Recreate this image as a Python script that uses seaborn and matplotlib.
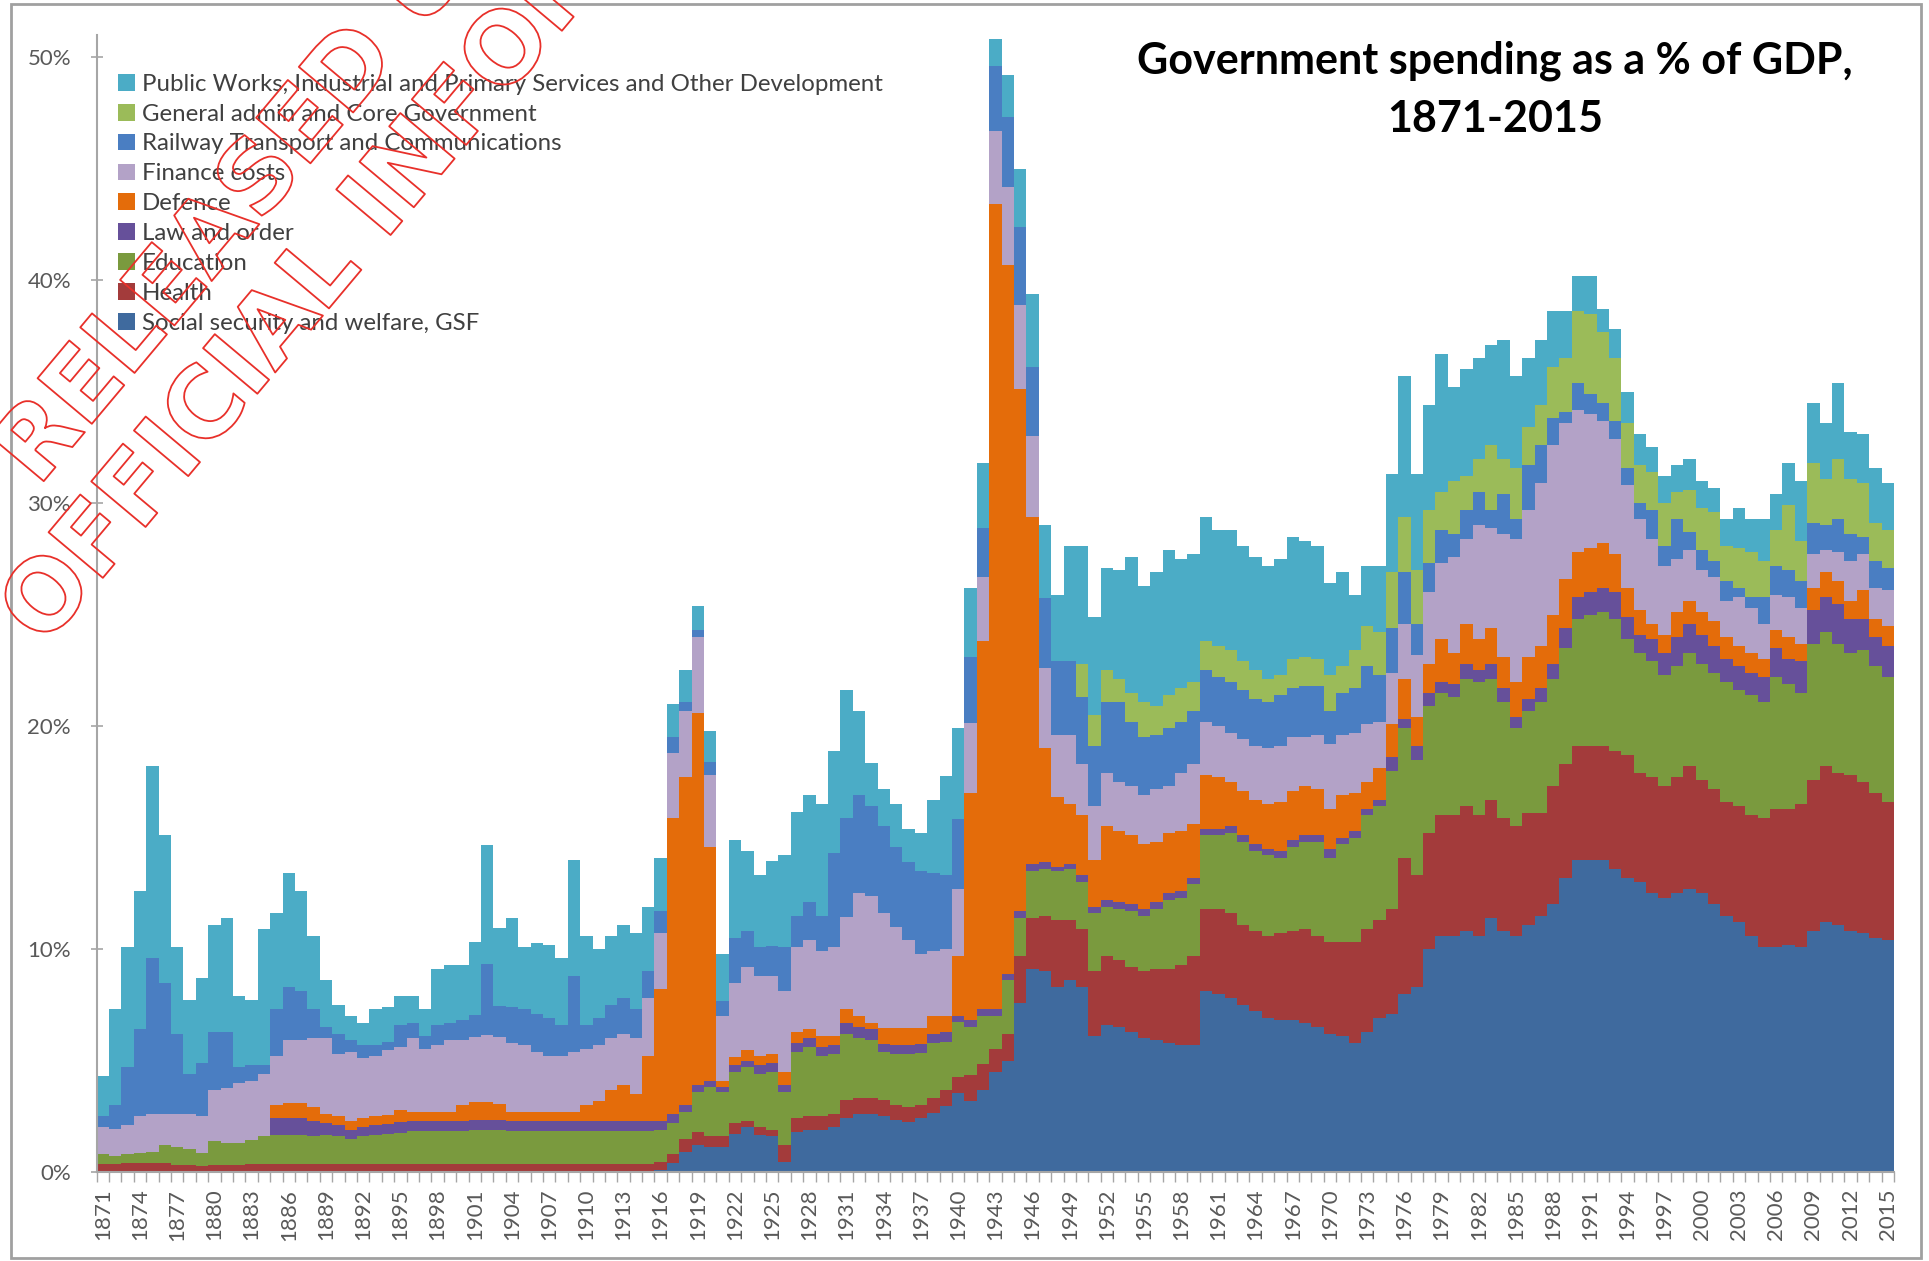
import matplotlib
matplotlib.use("Agg")
import numpy as np
import pandas as pd
import matplotlib.pyplot as plt
import matplotlib.patheffects as pe
from matplotlib import font_manager
from matplotlib.patches import Patch, Rectangle
import seaborn as sns

years = list(range(1871, 2016))

# values in % of GDP, one per year 1871-2015 (rows of 25 years)
social_security = (
    [0] * 25
    + [0] * 20 + [0.1, 0.4, 0.9, 1.2, 1.1]
    + [1.1, 1.7, 2.0, 1.65, 1.6, 0.45, 1.8, 1.9, 1.9, 2.0, 2.4, 2.6, 2.6, 2.5, 2.35, 2.25, 2.4, 2.65, 2.95, 3.55, 3.2, 3.7, 4.5, 5.0, 7.6]
    + [9.1, 9.0, 8.3, 8.6, 8.3, 6.1, 6.6, 6.5, 6.3, 6.0, 5.9, 5.8, 5.7, 5.7, 8.1, 8.0, 7.8, 7.5, 7.2, 6.9, 6.8, 6.8, 6.7, 6.5, 6.2]
    + [6.1, 5.8, 6.3, 6.9, 7.1, 8.0, 8.3, 10.0, 10.6, 10.6, 10.8, 10.6, 11.4, 10.8, 10.6, 11.1, 11.5, 12.0, 13.2, 14.0, 14.0, 14.0, 13.6, 13.2, 13.0]
    + [12.5, 12.3, 12.5, 12.7, 12.5, 12.0, 11.5, 11.2, 10.6, 10.1, 10.1, 10.2, 10.1, 10.8, 11.2, 11.1, 10.8, 10.7, 10.5, 10.4]
)
health = (
    [0.35, 0.35, 0.4, 0.4, 0.4, 0.4, 0.3, 0.3, 0.25, 0.3, 0.3, 0.3, 0.35, 0.35, 0.35, 0.35, 0.35, 0.35, 0.35, 0.35, 0.35, 0.35, 0.35, 0.35, 0.35]
    + [0.35] * 20 + [0.35, 0.4, 0.6, 0.6, 0.5]
    + [0.5, 0.5, 0.3, 0.35, 0.3, 0.75, 0.6, 0.6, 0.6, 0.6, 0.85, 0.7, 0.7, 0.75, 0.65, 0.65, 0.6, 0.65, 0.75, 0.7, 1.15, 1.15, 1.0, 1.2, 2.1]
    + [2.3, 2.5, 3.0, 2.7, 2.6, 2.9, 3.1, 3.0, 2.9, 3.0, 3.2, 3.3, 3.6, 4.0, 3.7, 3.8, 3.8, 3.6, 3.6, 3.7, 3.9, 4.0, 4.2, 4.1, 4.1]
    + [4.2, 4.5, 4.6, 4.4, 4.7, 6.1, 5.0, 5.2, 5.4, 5.4, 5.6, 5.4, 5.3, 5.1, 4.9, 5.0, 4.6, 5.3, 5.1, 5.1, 5.1, 5.1, 5.3, 5.5, 4.9]
    + [5.2, 5.0, 5.2, 5.5, 5.1, 5.2, 5.1, 5.2, 5.4, 5.8, 6.2, 6.1, 6.4, 6.8, 7.0, 6.8, 7.0, 6.8, 6.5, 6.2]
)
education = (
    [0.45, 0.35, 0.4, 0.45, 0.5, 0.8, 0.8, 0.75, 0.6, 1.1, 1.0, 1.0, 1.1, 1.25, 1.3, 1.3, 1.3, 1.25, 1.3, 1.25, 1.15, 1.25, 1.3, 1.35, 1.4]
    + [1.5, 1.5, 1.5, 1.5, 1.5, 1.55, 1.55, 1.55, 1.5, 1.5, 1.5, 1.5, 1.5, 1.5, 1.5, 1.5, 1.5, 1.5, 1.5, 1.5, 1.45, 1.4, 1.2, 1.8, 2.2]
    + [2.0, 2.3, 2.4, 2.4, 2.6, 2.4, 3.0, 3.1, 2.7, 2.7, 2.95, 2.7, 2.6, 2.15, 2.3, 2.4, 2.35, 2.5, 2.15, 2.5, 2.15, 2.15, 1.5, 2.4, 1.7]
    + [2.1, 2.1, 2.2, 2.3, 2.1, 2.6, 2.2, 2.3, 2.5, 2.5, 2.7, 3.1, 3.0, 3.2, 3.3, 3.3, 3.6, 3.7, 3.6, 3.6, 3.4, 3.8, 3.9, 4.2, 3.8]
    + [4.4, 4.7, 5.1, 5.1, 6.2, 5.8, 5.2, 5.7, 5.5, 5.3, 5.7, 6.0, 5.4, 5.2, 4.4, 4.6, 5.0, 4.8, 5.2, 5.7, 5.9, 6.0, 5.9, 5.2, 5.4]
    + [5.2, 5.0, 5.0, 5.1, 5.2, 5.2, 5.4, 5.2, 5.4, 5.2, 5.9, 5.6, 5.0, 6.1, 6.0, 5.8, 5.5, 5.9, 5.7, 5.6]
)
law_order = (
    [0] * 14 + [0.75, 0.75, 0.75, 0.7, 0.55, 0.5, 0.4, 0.4, 0.45, 0.45, 0.5]
    + [0.45] * 20 + [0.4, 0.4, 0.3, 0.3, 0.3]
    + [0.2, 0.3, 0.3, 0.4, 0.4, 0.3, 0.4, 0.4, 0.4, 0.4, 0.5, 0.5, 0.5, 0.35, 0.4, 0.4, 0.4, 0.4, 0.45, 0.25, 0.3, 0.3, 0.3, 0.3, 0.3]
    + [0.3, 0.3, 0.2, 0.2, 0.3] + [0.3] * 19 + [0.4]
    + [0.3, 0.3, 0.3, 0.3, 0.6, 0.4, 0.6, 0.6, 0.5, 0.6, 0.7, 0.5, 0.7, 0.6, 0.5, 0.5, 0.6, 0.7, 0.9, 1.0, 1.0, 1.1, 1.2, 1.0, 0.8]
    + [1.0, 1.0, 1.3, 1.3, 1.3, 1.2, 1.0, 1.1, 1.0, 1.1, 1.3, 1.1, 1.4, 1.5, 1.6, 1.8, 1.5, 1.4, 1.3, 1.4]
)
defence = (
    [0] * 14 + [0.6, 0.7, 0.7, 0.6, 0.4, 0.4, 0.4, 0.4, 0.4, 0.4, 0.55]
    + [0.4, 0.4, 0.4, 0.4, 0.7, 0.8, 0.8, 0.7, 0.4, 0.4, 0.4, 0.4, 0.4, 0.4, 0.7, 0.9, 1.4, 1.6, 1.2, 2.9, 5.9, 13.3, 14.7, 16.7, 10.5]
    + [0.3, 0.35, 0.45, 0.4, 0.4, 0.6, 0.5, 0.4, 0.5, 0.4, 0.6, 0.5, 0.3, 0.7, 0.75, 0.75, 0.7, 0.8, 0.7, 2.7, 10.2, 16.5, 36.1, 31.8, 23.4]
    + [15.6, 5.1, 3.1, 2.7, 2.7, 2.1, 3.3, 3.2, 3.1, 2.9, 2.7, 2.7, 2.7, 2.4, 2.4, 2.3, 2.0, 2.0, 2.0, 2.0, 2.2, 2.2, 2.2, 2.1, 1.8]
    + [1.9, 1.7, 1.2, 1.4, 1.5, 1.8, 1.3, 1.3, 1.9, 1.4, 1.8, 1.4, 1.6, 1.4, 1.6, 1.9, 1.9, 2.2, 2.2, 2.0, 2.0, 2.0, 1.7, 1.3, 1.1]
    + [0.7, 0.8, 1.1, 1.0, 1.0, 1.1, 1.0, 0.9, 0.9, 0.8, 0.8, 1.0, 0.8, 1.0, 1.1, 1.0, 0.8, 1.3, 0.8, 0.9]
)
finance = (
    [1.2, 1.25, 1.3, 1.65, 1.7, 1.4, 1.5, 1.55, 1.65, 2.3, 2.45, 2.7, 2.65, 2.8, 2.2, 2.8, 2.8, 3.1, 3.4, 2.8, 3.1, 2.7, 2.7, 2.9, 2.8]
    + [3.3, 2.8, 3.0, 3.2, 2.9, 2.9, 3.0, 3.0, 3.1, 3.0, 2.7, 2.5, 2.5, 2.7, 2.5, 2.5, 2.3, 2.3, 2.5, 2.6, 2.5, 2.9, 3.0, 3.4, 3.2]
    + [2.9, 3.35, 3.75, 3.6, 3.5, 3.6, 3.8, 4.0, 3.8, 4.0, 4.15, 5.5, 5.7, 5.15, 4.55, 3.95, 3.35, 2.9, 3.0, 3.0, 3.15, 2.9, 3.3, 3.5, 3.8]
    + [3.6, 3.6, 2.8, 3.1, 2.3, 2.4, 2.4, 2.2, 2.2, 2.2, 2.4, 2.1, 2.6, 2.7, 2.4, 2.3, 2.2, 2.3, 2.4, 2.5, 2.5, 2.4, 2.2, 2.4, 2.9]
    + [2.7, 2.7, 2.6, 2.1, 2.3, 2.5, 2.8, 3.2, 3.4, 4.3, 3.8, 5.1, 4.5, 5.5, 6.4, 6.6, 7.3, 7.6, 7.0, 6.4, 6.0, 5.5, 5.2, 4.6, 4.1]
    + [3.8, 3.1, 2.4, 2.3, 1.9, 2.0, 1.6, 2.2, 2.0, 1.6, 1.6, 1.8, 1.6, 1.5, 1.0, 1.3, 1.8, 1.6, 1.4, 1.6]
)
railway = (
    [0.5, 1.05, 2.6, 3.9, 7.0, 5.9, 3.6, 1.8, 2.4, 2.6, 2.55, 0.7, 0.7, 0.4, 2.1, 2.4, 2.2, 1.3, 0.5, 0.9, 0.5, 0.6, 0.5, 0.4, 1.0]
    + [0.7, 0.6, 0.9, 0.8, 0.9, 1.0, 3.2, 1.4, 1.6, 1.6, 1.7, 1.7, 1.4, 3.4, 1.1, 1.2, 1.5, 1.6, 1.3, 1.2, 1.0, 0.7, 0.4, 0.3, 0.6]
    + [0.65, 2.0, 1.6, 1.3, 1.35, 2.0, 1.4, 1.7, 1.6, 4.2, 4.45, 4.4, 4.0, 3.9, 3.6, 3.5, 3.7, 3.5, 3.3, 3.15, 2.95, 2.2, 2.9, 3.1, 3.5]
    + [3.1, 3.15, 3.3, 3.3, 3.0, 2.7, 3.2, 3.6, 2.9, 2.6, 2.4, 2.6, 2.3, 2.4, 2.3, 2.2, 2.3, 2.2, 2.1, 2.1, 2.3, 2.2, 2.3, 2.2, 1.5]
    + [1.9, 2.0, 2.6, 2.1, 2.0, 2.3, 1.4, 1.3, 1.5, 1.0, 1.3, 1.5, 0.8, 1.8, 0.9, 2.0, 1.7, 1.2, 0.5, 1.2, 0.9, 0.8, 0.8, 0.8, 0.7]
    + [1.3, 0.9, 1.8, 0.8, 0.9, 0.7, 0.9, 0.4, 0.5, 1.2, 1.3, 1.2, 1.2, 1.4, 1.1, 1.5, 1.2, 0.8, 1.2, 1.0]
)
admin = (
    [0] * 75
    + [0, 0, 0, 0, 1.5, 1.4, 1.4, 1.0, 1.3, 1.6, 1.3, 1.5, 1.5, 1.3, 1.3, 1.4, 1.4, 1.3, 1.3, 1.0, 0.9, 1.3, 1.3, 1.2, 1.6]
    + [1.2, 1.7, 1.8, 1.9, 2.5, 2.5, 2.4, 2.4, 1.7, 2.4, 1.5, 1.5, 2.9, 1.6, 2.3, 1.7, 1.8, 2.3, 2.4, 3.2, 3.6, 3.2, 2.8, 2.0, 1.7]
    + [1.7, 1.9, 1.2, 1.9, 1.9, 2.2, 1.6, 1.8, 2.0, 1.6, 1.6, 2.9, 1.8, 2.7, 2.1, 2.7, 2.5, 2.4, 1.7, 1.7]
)
public_works = (
    [1.8, 4.3, 5.4, 6.2, 8.6, 6.6, 3.9, 3.3, 3.8, 4.8, 5.1, 3.2, 2.9, 6.1, 4.3, 5.1, 4.5, 3.3, 2.1, 1.3, 1.1, 1.0, 1.6, 1.55, 1.3]
    + [1.2, 1.2, 2.5, 2.6, 2.5, 3.25, 5.3, 3.5, 4.0, 2.8, 3.15, 3.3, 3.0, 5.2, 4.0, 3.1, 3.1, 3.3, 3.4, 2.9, 2.4, 1.5, 1.4, 1.1, 1.4]
    + [2.15, 4.4, 3.6, 3.2, 3.8, 4.1, 4.65, 4.8, 5.0, 4.6, 5.7, 3.8, 1.95, 1.7, 1.9, 1.5, 1.7, 3.3, 4.45, 4.05, 3.1, 2.9, 1.2, 1.9, 2.6]
    + [3.3, 3.25, 3.0, 5.2, 5.3, 4.4, 4.6, 4.9, 6.1, 5.2, 6.0, 6.5, 5.8, 5.7, 5.6, 5.2, 5.4, 5.2, 5.1, 5.1, 5.2, 5.5, 5.2, 5.1, 4.1]
    + [4.2, 2.5, 2.7, 3.0, 4.4, 6.3, 4.3, 4.7, 6.2, 4.2, 4.8, 4.5, 4.5, 5.3, 4.1, 3.1, 2.9, 2.5, 2.1, 1.6, 1.7, 1.0, 1.3, 1.4, 1.4]
    + [1.1, 1.2, 1.2, 1.4, 1.2, 1.1, 1.2, 1.8, 1.5, 1.9, 1.6, 1.9, 2.7, 2.7, 2.5, 3.4, 2.1, 2.2, 2.5, 2.1]
)

# bottom to top of the stack
labels = [
    "Social security and welfare, GSF",
    "Health",
    "Education",
    "Law and order",
    "Defence",
    "Finance costs",
    "Railway Transport and Communications",
    "General admin and Core Government",
    "Public Works, Industrial and Primary Services and Other Development",
]
colors = ["#3F6A9E", "#A33B3B", "#7A9A3E", "#66509A", "#E46C0A",
          "#B3A2C7", "#4A7EC2", "#9BBB59", "#4BACC6"]
series = [social_security, health, education, law_order, defence,
          finance, railway, admin, public_works]
for name, vals in zip(labels, series):
    assert len(vals) == len(years), (name, len(vals))

df = pd.DataFrame({name: vals for name, vals in zip(labels, series)}, index=years)
tops = df.cumsum(axis=1)

sns.set_theme(style="white")
installed = {f.name for f in font_manager.fontManager.ttflist}
body = "Lato" if "Lato" in installed else "DejaVu Sans"
plt.rcParams["font.family"] = [body, "DejaVu Sans"]

W, H = 1929, 1261
fig = plt.figure(figsize=(W / 100, H / 100), dpi=100)
fig.patch.set_facecolor("white")
ax = fig.add_axes([96.7 / W, 89 / H, (1894 - 96.7) / W, 1137 / H])

# paint cumulative totals from the top layer down
for name, color in reversed(list(zip(labels, colors))):
    sns.histplot(x=years, weights=tops[name].values, discrete=True,
                 element="step", fill=True, color=color, alpha=1,
                 linewidth=0, ax=ax)

ax.set_xlim(1870.5, 2015.5)
ax.set_ylim(0, 51)
ax.set_xlabel("")
ax.set_ylabel("")

grey = "#A6A6A6"
for s in ["top", "right"]:
    ax.spines[s].set_visible(False)
for s in ["left", "bottom"]:
    ax.spines[s].set_color(grey)
    ax.spines[s].set_linewidth(1.5)

ax.set_yticks(range(0, 51, 10))
ax.set_yticklabels([f"{v}%" for v in range(0, 51, 10)])
ax.tick_params(axis="y", direction="inout", length=9, width=1.2, color=grey,
               labelsize=16, labelcolor="#595959", pad=14, left=True)

ax.set_xticks(years[::3])
ax.set_xticklabels([str(y) for y in years[::3]], rotation=90)
ax.set_xticks(np.arange(1870.5, 2016, 1), minor=True)
ax.tick_params(axis="x", which="major", length=0, labelsize=16,
               labelcolor="#595959", pad=12)
ax.tick_params(axis="x", which="minor", length=7, width=1.0, color=grey,
               direction="out", bottom=True)
ax.grid(False)

handles = [Patch(facecolor=c, edgecolor="none") for c in colors[::-1]]
leg = ax.legend(handles, labels[::-1], loc="upper left",
                bbox_to_anchor=(0.0119, 0.966), frameon=False, fontsize=17.3,
                handlelength=0.7, handleheight=0.7, handletextpad=0.3,
                labelspacing=0.37, borderpad=0, borderaxespad=0)
for t in leg.get_texts():
    t.set_color("#404040")

fig.text(1495 / W, 1 - 61 / H, "Government spending as a % of GDP,",
         ha="center", va="center", fontsize=31, fontweight="bold", color="black")
fig.text(1495 / W, 1 - 119 / H, "1871-2015",
         ha="center", va="center", fontsize=31, fontweight="bold", color="black")

# outer frame of the picture
fig.patches.append(Rectangle((11 / W, 3 / H), (1921 - 11) / W, (1257 - 3) / H,
                             transform=fig.transFigure, fill=False,
                             edgecolor="#A0A0A0", linewidth=2))

# red outline stamp, cut by the picture edge as in the scan
stamp = [pe.Stroke(linewidth=1.3, foreground="#E8302A")]
for (x0, y0), line in [((38, 488), "RELEASED UNDER THE"),
                       ((44, 648), "OFFICIAL INFORMATION ACT")]:
    fig.text(x0 / W, 1 - y0 / H, line, rotation=50, rotation_mode="anchor",
             ha="left", va="baseline", fontsize=70, fontweight="bold",
             family="DejaVu Sans", color=(1, 1, 1, 0),
             path_effects=stamp, zorder=20)

fig.savefig("out.png", dpi=100, facecolor="white")
